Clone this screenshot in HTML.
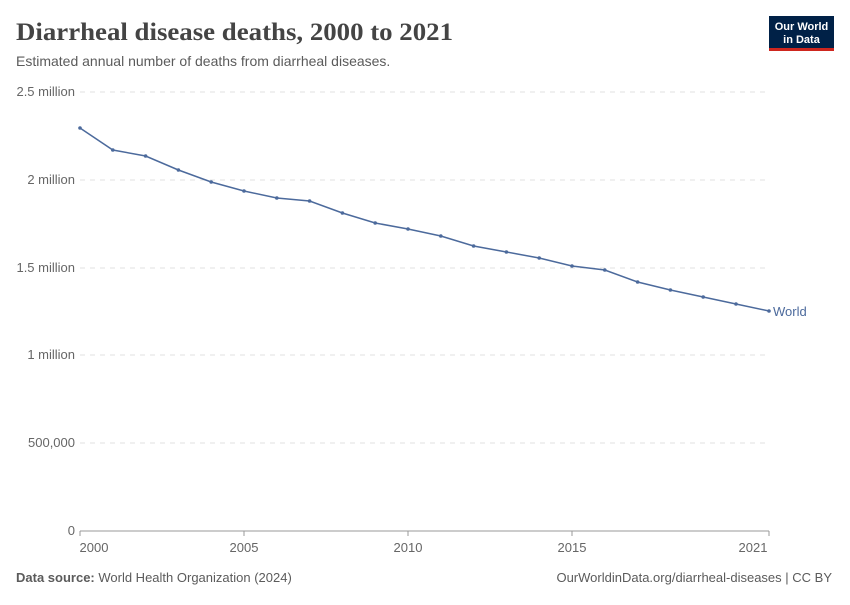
<!DOCTYPE html>
<html><head><meta charset="utf-8"><style>
body{margin:0;width:850px;height:600px;background:#fff;font-family:"Liberation Sans",sans-serif;overflow:hidden}
</style></head><body>
<svg width="850" height="600" xmlns="http://www.w3.org/2000/svg">
<text x="16" y="40" font-family="Liberation Serif,serif" font-size="25" font-weight="bold" fill="#444" textLength="437" lengthAdjust="spacingAndGlyphs">Diarrheal disease deaths, 2000 to 2021</text>
<text x="16" y="66" font-size="14" fill="#5b5b5b">Estimated annual number of deaths from diarrheal diseases.</text>
<rect x="769" y="16" width="65" height="34" fill="#002147"/>
<rect x="769" y="48" width="65" height="3" fill="#ce261e"/>
<text x="801.5" y="30" font-size="11" font-weight="bold" fill="#fff" text-anchor="middle">Our World</text>
<text x="801.5" y="43" font-size="11" font-weight="bold" fill="#fff" text-anchor="middle">in Data</text>
<g stroke="#e2e2e2" stroke-dasharray="5,5" stroke-width="1">
<line x1="80" x2="769" y1="92" y2="92"/><line x1="80" x2="769" y1="180" y2="180"/>
<line x1="80" x2="769" y1="268" y2="268"/><line x1="80" x2="769" y1="355" y2="355"/>
<line x1="80" x2="769" y1="443" y2="443"/>
</g>
<line x1="80" x2="769" y1="531" y2="531" stroke="#999"/>
<g font-size="13" fill="#666" text-anchor="end">
<text x="75" y="96">2.5 million</text><text x="75" y="184">2 million</text>
<text x="75" y="272">1.5 million</text><text x="75" y="359">1 million</text>
<text x="75" y="447">500,000</text><text x="75" y="535">0</text>
</g>
<g stroke="#999"><line x1="80" x2="80" y1="531" y2="536"/><line x1="244" x2="244" y1="531" y2="536"/><line x1="408" x2="408" y1="531" y2="536"/><line x1="572" x2="572" y1="531" y2="536"/><line x1="769" x2="769" y1="531" y2="536"/></g>
<g font-size="13" fill="#666" text-anchor="middle">
<text x="94" y="552">2000</text><text x="244" y="552">2005</text><text x="408" y="552">2010</text><text x="572" y="552">2015</text><text x="753" y="552">2021</text>
</g>
<polyline fill="none" stroke="#4c6a9c" stroke-width="1.5" points="80,128 112.8,150 145.6,156 178.4,170 211.2,182 244,191 276.8,198 309.6,201 342.4,213 375.2,223 408,229 440.8,236 473.6,246 506.4,252 539.2,258 572,266 604.8,270 637.6,282 670.4,290 703.2,297 736,304 769,311"/>
<g fill="#4c6a9c">
<circle cx="80" cy="128" r="1.8"/><circle cx="112.8" cy="150" r="1.8"/><circle cx="145.6" cy="156" r="1.8"/><circle cx="178.4" cy="170" r="1.8"/><circle cx="211.2" cy="182" r="1.8"/><circle cx="244" cy="191" r="1.8"/><circle cx="276.8" cy="198" r="1.8"/><circle cx="309.6" cy="201" r="1.8"/><circle cx="342.4" cy="213" r="1.8"/><circle cx="375.2" cy="223" r="1.8"/><circle cx="408" cy="229" r="1.8"/><circle cx="440.8" cy="236" r="1.8"/><circle cx="473.6" cy="246" r="1.8"/><circle cx="506.4" cy="252" r="1.8"/><circle cx="539.2" cy="258" r="1.8"/><circle cx="572" cy="266" r="1.8"/><circle cx="604.8" cy="270" r="1.8"/><circle cx="637.6" cy="282" r="1.8"/><circle cx="670.4" cy="290" r="1.8"/><circle cx="703.2" cy="297" r="1.8"/><circle cx="736" cy="304" r="1.8"/><circle cx="769" cy="311" r="1.8"/>
</g>
<text x="773" y="316" font-size="13" fill="#4c6a9c">World</text>
<text x="16" y="582" font-size="13" fill="#5b5b5b"><tspan font-weight="bold">Data source:</tspan> World Health Organization (2024)</text>
<text x="832" y="582" font-size="13" fill="#5b5b5b" text-anchor="end">OurWorldinData.org/diarrheal-diseases | CC BY</text>
</svg>
</body></html>
